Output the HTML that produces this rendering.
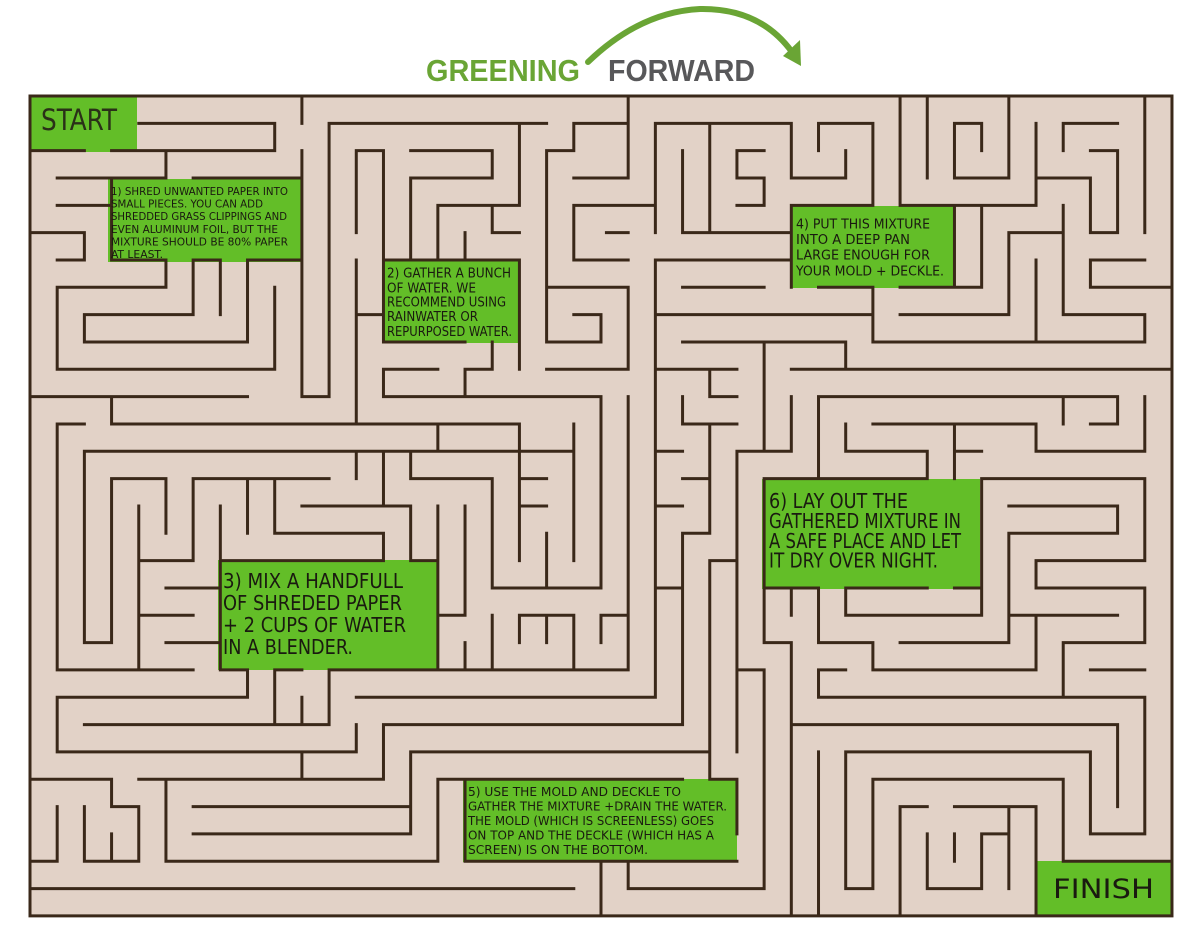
<!DOCTYPE html>
<html><head><meta charset="utf-8"><style>
html,body{margin:0;padding:0;background:#fff;}
svg{display:block;}
.t{font-family:"DejaVu Sans Condensed","DejaVu Sans","Liberation Sans",sans-serif;fill:#1a1a10;}
</style></head><body>
<svg width="1200" height="927" viewBox="0 0 1200 927" xmlns="http://www.w3.org/2000/svg">
<rect x="0" y="0" width="1200" height="927" fill="#fff"/>
<rect x="30" y="96" width="1142" height="820" fill="#e2d2c7"/>
<!-- green boxes -->
<g fill="#63be28">
<rect x="31" y="97" width="106" height="55"/>
<rect x="108" y="179" width="194" height="83"/>
<rect x="383" y="260" width="137" height="83"/>
<rect x="218" y="560" width="220" height="110"/>
<rect x="790" y="206" width="163" height="82"/>
<rect x="463" y="779" width="274" height="83"/>
<rect x="762" y="479" width="218" height="110"/>
<rect x="1036" y="861" width="135" height="54"/>
</g>
<g transform="translate(30,96) scale(27.19,27.33)" fill="none" stroke="#3a2819" stroke-width="3" stroke-linecap="square">
<path vector-effect="non-scaling-stroke" d="
M0 0H42V30H0Z
M0 2H2 M3 2H9 M4 1H9 M9 1V2 M10 0V1 M10 2V11 M10 11H11 M11 1V11 M11 1H19
M5 2V3 M1 3H5 M6 3H10 M3 3V6
M1 4H3 M0 5H2 M2 5V6 M1 6H2 M3 6H5 M5 6V7 M1 7H5 M1 7V10 M1 10H9 M9 7V10
M6 6V8 M2 8H6 M2 8V9 M2 9H8 M8 6V9 M6 6H7 M7 6V8 M8 6H10
M0 11H8 M3 11V12 M3 12H18 M18 12V13 M18 13H20 M20 12V14
M1 12H2 M1 12V21 M2 13H18 M15 12V13 M2 13V20 M12 13V14 M13 13V15 M18 13V17 M18 14H19 M14 13V14 M14 14H17
M3 14H5 M3 14V20 M5 14V16 M6 14H11 M8 14V16 M9 14V16
M12 2H13 M12 2V5 M13 2V9 M14 2H17 M17 2V3 M14 3H17 M14 3V6 M18 1V4 M15 4H18 M15 4V6 M17 4V5 M17 5H18 M16 5V6
M13 6H18 M18 6V10 M13 9H16 M12 6V12 M12 8H13 M17 9V10 M16 10H17 M16 10V11 M13 10H15 M13 10V11 M13 11H21 M21 11V18
M20 1H22 M20 1V2 M19 2H20 M19 2V9 M19 9H21 M21 8V9 M20 8H21 M19 7H22 M20 3H22 M20 4H23 M20 4V6 M20 6H22 M19 10H22 M21.2 5H22
M22 0V3 M21 3H22 M23 1H28 M23 1V5 M24 2V5 M24 5H28 M25 1V5
M26 2H27 M26 2V3 M26 3H27 M27 3V4 M26 4H27
M28 1V3 M28 3H30 M30 2V3 M29 1H31 M29 1V2 M31 1V4
M28 4H31 M32 4H35 M28 4V7 M29 7H31 M32 7H35 M34 4V7
M32 0V4 M33 0V3 M34 1H35 M34 1V3 M34 3H36 M35 1V2 M36 0V3
M37 1V4 M35 4H37 M35 4V7
M37 3H39 M39 3V5 M39 5H40 M40 2V5 M39 2H40 M38 1H40 M38 1V2 M41 0V5
M38 4V8 M36 5H38 M36 5V8 M32 8H36 M37 6V9 M39 6H41 M39 6V7 M39 7H42 M38 8H41 M41 8V9 M31 9H41 M31 7V9
M23 6H28 M23 6V22 M24 7H27 M23 8H31 M24 9H30 M30 9V10 M27 9V13 M28 10H42 M22 7V10 M22 11V21
M23 10H26 M25 10V11 M25 11H26 M24 11V12 M24 12H26 M25 12V16 M23 13H24 M24 14H25 M26 13V24 M26 13H28 M28 11V13
M29 11H40 M29 11V14 M38 11V12 M39 12H40 M40 11V12 M41 11V13 M37 13H41 M37 12V13 M31 12H37 M34 12V14 M34 13H35
M30 12V13 M30 13H33 M33 13V14 M35 14H41 M41 14V17 M27 14H33
M1 21H6 M2 20H3 M4 15V21 M4 17H6 M6 14V17 M5 18H7 M4 19H6 M5 20H7 M7 15V17
M7 17H13 M14 17H15 M7 17V21 M7 21H8 M9 21H10 M11 21H15 M15 17V21
M9 16H13 M13 16V17 M10 15H14 M14 15V17 M15 15V17 M16 15V19 M15 19H16 M17 14V18 M17 18H21 M19 16V18 M18 15H19 M20 14V17
M18 19H20 M18 19V20 M19 19V20 M20 19V21 M21 19H22 M21 19V20 M16 20V21 M17 19V21 M15 21H22
M8 21V22 M1 22H8 M1 22V24 M1 24H12 M12 23V24 M2 23H11 M9 21V23 M10 22V23 M11 21V23 M12 22H23 M13 23H24 M13 23V25 M10 24V25 M4 25H13 M14 24H25 M14 24V27 M6 26H14 M6 27H14
M0 25H3 M3 25V26 M3 26H4 M4 26V28 M2 28H4 M3 27V28 M2 26V28 M1 26V28 M0 28H1
M5 25V28 M5 28H15 M15 25V28 M15 25H16 M16 25H24 M16 25V28 M16 28H26 M26 25V27 M0 29H20 M21 28V30
M20 18H21 M22 14V21 M20 21H22 M20 22H23 M23 15H24 M24 16H25 M25 14V16 M24 14H25 M24 16V23 M23 18H24
M25 17H26 M25 17V25 M25 25H26 M26 21H27 M27 21V29 M22 29H27 M22 28V29
M27 14V20 M35 14V19 M27 18H29 M30 18H33 M34 18H35
M27 20H28 M28 20V30 M28 18V19 M29 18V20 M29 20H31 M31 20V21 M31 21H37 M37 19V21 M36 19H40 M36 16V20 M32 20H36 M36 16H40 M40 15V16 M36 15H40
M30 18V19 M30 19H35
M37 17H41 M37 17V18 M37 18H41 M41 18V20 M38 20H41 M38 20V22 M29 22H41 M29 21V22 M29 21H30 M41 22V27 M39 27H41 M39 24V27 M30 24H39 M30 24V29 M30 29H31 M31 25V29 M31 25H38 M38 25V28 M38 28H42
M28 23H40 M40 23V26 M39 21H41 M29 24V30
M32 26H33 M32 26V30 M34 26H37 M37 26V30 M36 26V29 M35 27H36 M35 27V29 M33 29H35 M33 27V29 M34 27V28
"/>
</g>
<!-- box texts -->
<g class="t" font-size="11">
<text x="111" y="195" textLength="177" lengthAdjust="spacingAndGlyphs">1) SHRED UNWANTED PAPER INTO</text>
<text x="111" y="207.5" textLength="152" lengthAdjust="spacingAndGlyphs">SMALL PIECES. YOU CAN ADD</text>
<text x="111" y="220" textLength="176" lengthAdjust="spacingAndGlyphs">SHREDDED GRASS CLIPPINGS AND</text>
<text x="111" y="233" textLength="167" lengthAdjust="spacingAndGlyphs">EVEN ALUMINUM FOIL, BUT THE</text>
<text x="111" y="245.5" textLength="177" lengthAdjust="spacingAndGlyphs">MIXTURE SHOULD BE 80% PAPER</text>
<text x="111" y="258" textLength="52" lengthAdjust="spacingAndGlyphs">AT LEAST.</text>
</g>
<g class="t" font-size="13">
<text x="387" y="277.5" textLength="124" lengthAdjust="spacingAndGlyphs">2) GATHER A BUNCH</text>
<text x="387" y="292.5" textLength="89" lengthAdjust="spacingAndGlyphs">OF WATER. WE</text>
<text x="387" y="306.5" textLength="119" lengthAdjust="spacingAndGlyphs">RECOMMEND USING</text>
<text x="387" y="321" textLength="91" lengthAdjust="spacingAndGlyphs">RAINWATER OR</text>
<text x="387" y="336" textLength="125" lengthAdjust="spacingAndGlyphs">REPURPOSED WATER.</text>
</g>
<g class="t" font-size="20">
<text x="223" y="588" textLength="180" lengthAdjust="spacingAndGlyphs">3) MIX A HANDFULL</text>
<text x="223" y="610" textLength="179" lengthAdjust="spacingAndGlyphs">OF SHREDED PAPER</text>
<text x="223" y="632" textLength="183" lengthAdjust="spacingAndGlyphs">+ 2 CUPS OF WATER</text>
<text x="223" y="654" textLength="130" lengthAdjust="spacingAndGlyphs">IN A BLENDER.</text>
</g>
<g class="t" font-size="13">
<text x="796" y="228.5" textLength="134" lengthAdjust="spacingAndGlyphs">4) PUT THIS MIXTURE</text>
<text x="796" y="244" textLength="114" lengthAdjust="spacingAndGlyphs">INTO A DEEP PAN</text>
<text x="796" y="259.5" textLength="134" lengthAdjust="spacingAndGlyphs">LARGE ENOUGH FOR</text>
<text x="796" y="275.5" textLength="148" lengthAdjust="spacingAndGlyphs">YOUR MOLD + DECKLE.</text>
</g>
<g class="t" font-size="12">
<text x="468" y="796" textLength="213" lengthAdjust="spacingAndGlyphs">5) USE THE MOLD AND DECKLE TO</text>
<text x="468" y="810.5" textLength="259" lengthAdjust="spacingAndGlyphs">GATHER THE MIXTURE +DRAIN THE WATER.</text>
<text x="468" y="825" textLength="246" lengthAdjust="spacingAndGlyphs">THE MOLD (WHICH IS SCREENLESS) GOES</text>
<text x="468" y="839.5" textLength="246" lengthAdjust="spacingAndGlyphs">ON TOP AND THE DECKLE (WHICH HAS A</text>
<text x="468" y="854" textLength="180" lengthAdjust="spacingAndGlyphs">SCREEN) IS ON THE BOTTOM.</text>
</g>
<g class="t" font-size="20">
<text x="769" y="508" textLength="139" lengthAdjust="spacingAndGlyphs">6) LAY OUT THE</text>
<text x="769" y="528" textLength="192" lengthAdjust="spacingAndGlyphs">GATHERED MIXTURE IN</text>
<text x="769" y="548" textLength="192" lengthAdjust="spacingAndGlyphs">A SAFE PLACE AND LET</text>
<text x="769" y="567.5" textLength="169" lengthAdjust="spacingAndGlyphs">IT DRY OVER NIGHT.</text>
</g>
<text class="t" x="41" y="130" font-size="29" textLength="76" lengthAdjust="spacingAndGlyphs" style="fill:#2a3018">START</text>
<text class="t" x="1053" y="898" font-size="27" textLength="101" lengthAdjust="spacingAndGlyphs" style="fill:#1a1a10">FINISH</text>
<!-- title -->
<text x="426" y="81" font-family="'Liberation Sans Narrow','Liberation Sans',sans-serif" font-weight="bold" font-size="31" fill="#6aa535" textLength="154" lengthAdjust="spacingAndGlyphs">GREENING</text>
<text x="608" y="81" font-family="'Liberation Sans Narrow','Liberation Sans',sans-serif" font-weight="bold" font-size="31" fill="#58585a" textLength="147" lengthAdjust="spacingAndGlyphs">FORWARD</text>
<path d="M588 62 Q 640 12 700 9 Q 760 8 792 52" fill="none" stroke="#6aa535" stroke-width="6" stroke-linecap="round"/>
<path d="M783 56 L800 40 L801 66 Z" fill="#6aa535"/>
</svg>
</body></html>
